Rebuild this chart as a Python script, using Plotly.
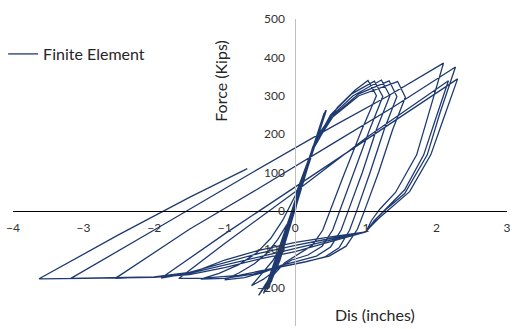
import plotly.graph_objects as go

# ---- hysteresis data: displacement (in) and force (kips), branch by branch ----

# initial elastic cycles around the origin (several passes per amplitude)
elastic_disp = [0.00, 0.08, -0.05, 0.13, -0.10, 0.18, -0.15, 0.24, -0.20, 0.30,
                -0.25, 0.36, -0.30, 0.41, -0.36, 0.44, -0.45]
elastic_force = [0, 70, -15, 100, -40, 125, -70, 160, -100, 195,
                 -130, 230, -160, 255, -190, 262, -215]

elastic2_disp = [-0.33, 0.39, -0.28, 0.34, -0.24, 0.40, -0.31, 0.43, -0.38]
elastic2_force = [-170, 240, -140, 215, -115, 250, -150, 262, -200]

elastic3_disp = [-0.22, 0.37, -0.27, 0.42, -0.34, 0.38, -0.40]
elastic3_force = [-130, 232, -150, 258, -185, 236, -205]

# small plastic cycles: reload to positive peak, then unload to negative peak
cyc1_disp = [-0.25, -0.05, 0.15, 0.35, 0.60, 0.85, 1.03,
             1.15, 0.94, 0.69, 0.49, 0.39, 0.24, 0.04, -0.15, -0.30, -0.42, -0.52]
cyc1_force = [-110, 0, 115, 205, 270, 315, 340,
              300, 210, 95, 0, -50, -90, -112, -135, -165, -195, -220]

cyc2_disp = [-0.40, -0.30, -0.10, 0.10, 0.25, 0.50, 0.80, 1.12,
             1.24, 1.05, 0.83, 0.63, 0.53, 0.38, 0.18, -0.05, -0.25, -0.45, -0.62]
cyc2_force = [-185, -154, -38, 78, 165, 250, 305, 338,
              298, 210, 100, 0, -50, -92, -115, -128, -150, -178, -195]

cyc3_disp = [-0.48, -0.32, -0.18, -0.05, 0.10, 0.25, 0.50, 0.82, 1.22,
             1.34, 1.15, 0.95, 0.75, 0.65, 0.50, 0.30, 0.05, -0.20, -0.45, -0.72, -1.00]
cyc3_force = [-165, -130, -85, -15, 80, 168, 245, 300, 341,
              300, 212, 100, 0, -50, -94, -118, -130, -142, -160, -174, -180]

cyc4_disp = [-0.80, -0.58, -0.40, -0.25, -0.10, 0.08, 0.25, 0.55, 0.90, 1.33,
             1.44, 1.26, 1.06, 0.87, 0.77, 0.62, 0.42, 0.15, -0.20, -0.60, -1.00, -1.34]
cyc4_force = [-162, -138, -110, -75, -30, 65, 165, 250, 305, 339,
              298, 212, 100, 0, -50, -96, -120, -133, -146, -165, -176, -178]

cyc5_disp = [-1.08, -0.80, -0.55, -0.35, -0.18, 0.00, 0.22, 0.50, 0.90, 1.45,
             1.56, 1.38, 1.18, 0.98, 0.88, 0.72, 0.48, 0.15, -0.30, -0.80, -1.30, -1.65]
cyc5_force = [-163, -140, -110, -72, -25, 40, 150, 240, 300, 337,
              296, 212, 100, 0, -48, -92, -118, -132, -150, -168, -175, -176]

# large cycles: straight reload to the peak, steep unload, pinched path to the negative peak
big1_disp = [-1.00, 0.00, 1.00, 2.17,
             1.98, 1.82, 1.55, 1.30, 1.15, 1.05, 1.00, 0.50, 0.00, -0.50, -1.00, -1.45, -1.90]
big1_force = [-85, 50, 190, 339,
              235, 146, 55, 8, -20, -42, -55, -68, -82, -102, -128, -160, -175]

big2_disp = [-1.00, 0.00, 1.00, 2.30,
             2.10, 1.92, 1.62, 1.35, 1.18, 1.06, 1.00, 0.50, 0.00, -0.50, -1.00, -1.50, -2.00, -2.55]
big2_force = [-60, 62, 185, 344,
              240, 146, 50, 8, -20, -42, -55, -72, -90, -110, -135, -160, -172, -176]

big3_disp = [-1.50, -0.55, 0.50, 1.40, 2.27,
             2.05, 1.87, 1.55, 1.28, 1.12, 1.04, 1.00, 0.50, 0.00, -0.50, -1.00, -1.50, -2.00, -2.60, -3.18]
big3_force = [-48, 55, 172, 272, 375,
              255, 146, 45, 3, -25, -45, -55, -76, -98, -118, -142, -163, -172, -175, -176]

big4_disp = [-2.00, -0.59, 0.50, 1.32, 2.10,
             1.92, 1.72, 1.42, 1.20, 1.08, 1.02, 1.00, 0.50, 0.00, -0.50, -1.00, -1.50, -2.00, -3.00, -3.63]
big4_force = [-50, 102, 217, 300, 385,
              270, 146, 48, 5, -25, -47, -55, -80, -106, -125, -148, -166, -173, -176, -177]

# final partial reload
final_disp = [-2.50, -1.50, -0.68]
final_force = [-62, 35, 110]

disp = (elastic_disp + elastic2_disp + elastic3_disp
        + cyc1_disp + cyc2_disp + cyc3_disp + cyc4_disp + cyc5_disp
        + big1_disp + big2_disp + big3_disp + big4_disp + final_disp)
force = (elastic_force + elastic2_force + elastic3_force
         + cyc1_force + cyc2_force + cyc3_force + cyc4_force + cyc5_force
         + big1_force + big2_force + big3_force + big4_force + final_force)

x_ticks = [-4, -3, -2, -1, 0, 1, 2, 3]
y_ticks = [-300, -200, -100, 0, 100, 200, 300, 400, 500]

FONT = "Lato"
LINE = "#1F3A70"
TEXT = "#262626"

fig = go.Figure()
fig.add_trace(go.Scatter(
    x=disp, y=force, mode="lines", name="Finite Element",
    line=dict(color=LINE, width=1.3),
))

x_range = [-4, 3]
y_range = [-300, 500]

fig.update_layout(
    width=512, height=329,
    margin=dict(l=10, r=5, t=19, b=3),
    paper_bgcolor="white", plot_bgcolor="white",
    font=dict(family=FONT, size=12, color="#333333"),
    showlegend=True,
    legend=dict(
        x=-0.02, y=0.886, xanchor="left", yanchor="middle",
        font=dict(family=FONT, size=16, color=TEXT),
        bgcolor="rgba(0,0,0,0)",
    ),
    xaxis=dict(
        range=x_range, tickvals=x_ticks, ticks="", showgrid=False, zeroline=False,
        showline=True, linecolor="#000000", linewidth=1, automargin=False,
        anchor="free", position=(0 - y_range[0]) / (y_range[1] - y_range[0]),
        ticklabelstandoff=6, tickfont=dict(size=12),
    ),
    yaxis=dict(
        range=y_range, tickvals=y_ticks, ticks="", showgrid=False, zeroline=False,
        showline=True, linecolor="#BFBFBF", linewidth=1, automargin=False,
        anchor="free", position=(0 - x_range[0]) / (x_range[1] - x_range[0]),
        ticklabelstandoff=8, tickfont=dict(size=12),
    ),
    annotations=[
        dict(text="Force (Kips)", xref="paper", yref="paper", x=0.4185, y=0.798,
             xanchor="center", yanchor="middle", textangle=-90, showarrow=False,
             font=dict(family=FONT, size=16, color=TEXT)),
        dict(text="Dis (inches)", xref="paper", yref="paper", x=0.732, y=0.036,
             xanchor="center", yanchor="middle", showarrow=False,
             font=dict(family=FONT, size=16, color=TEXT)),
    ],
)

fig.write_html("out.html")
